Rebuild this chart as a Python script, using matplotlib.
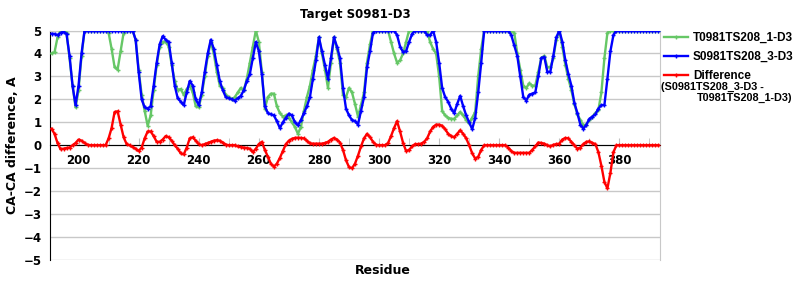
import numpy as np
import matplotlib
matplotlib.use('Agg')
import matplotlib.pyplot as plt
from matplotlib.ticker import MultipleLocator

# residues 191..393
residues = np.arange(191, 394)

model_t = [
    4.0, 4.05, 4.7, 5.0, 5.0, 4.9, 3.8, 2.6, 1.65,            # 191-199
    2.4, 3.9, 5.0, 5.0, 5.0, 5.0, 5.0, 5.0, 5.0, 5.0,          # 200-209
    4.9, 4.2, 3.4, 3.3, 4.1, 4.9, 5.0, 5.0, 5.0, 4.6,          # 210-219
    3.3, 2.2, 1.5, 0.85, 1.3, 2.4, 3.5, 4.3, 4.5, 4.5,         # 220-229
    4.3, 3.5, 2.8, 2.4, 2.45, 2.2, 2.45, 2.6, 2.3, 1.7,        # 230-239
    1.65, 2.2, 3.0, 3.9, 4.5, 4.0, 3.2, 2.6, 2.5, 2.2,         # 240-249
    2.1, 2.0, 2.1, 2.3, 2.5, 2.4, 2.9, 3.6, 4.3, 5.0,          # 250-259
    4.5, 3.2, 1.6, 2.1, 2.25, 2.25, 1.7, 1.4, 1.25, 1.3,       # 260-269
    1.2, 1.0, 0.8, 0.5, 0.8, 1.5, 2.1, 2.6, 3.3, 3.9,          # 270-279
    4.7, 4.0, 3.3, 2.5, 3.6, 4.7, 4.2, 3.6, 2.2, 2.1,          # 280-289
    2.5, 2.3, 1.8, 1.25, 1.75, 2.3, 3.6, 4.4, 5.0, 5.0,        # 290-299
    5.0, 5.0, 5.0, 5.0, 4.5, 4.0, 3.6, 3.7, 4.0, 4.5,          # 300-309
    5.0, 5.0, 5.0, 5.0, 5.0, 5.0, 5.0, 4.5, 4.2, 4.0,          # 310-319
    3.0, 1.5, 1.3, 1.2, 1.15, 1.15, 1.3, 1.45, 1.3, 1.1,       # 320-329
    0.95, 1.2, 1.45, 3.0, 4.2, 5.0, 5.0, 5.0, 5.0, 5.0,        # 330-339
    5.0, 5.0, 5.0, 5.0, 5.0, 4.9, 4.0, 3.3, 2.6, 2.5,          # 340-349
    2.7, 2.6, 2.6, 3.2, 3.8, 3.9, 3.4, 3.4, 3.8, 4.6,          # 350-359
    5.0, 4.3, 3.5, 2.9, 2.4, 1.8, 1.35, 1.1, 0.87, 0.9,        # 360-369
    1.1, 1.25, 1.4, 1.55, 2.3, 3.8, 4.9, 5.0, 5.0, 5.0,        # 370-379
    5.0, 5.0, 5.0, 5.0, 5.0, 5.0, 5.0, 5.0, 5.0, 5.0,          # 380-389
    5.0, 5.0, 5.0, 5.0,                                        # 390-393
]

model_s = [
    4.86, 4.85, 4.8, 4.9, 4.95, 4.85, 3.9, 2.6, 1.75,          # 191-199
    2.6, 4.0, 5.0, 5.0, 5.0, 5.0, 5.0, 5.0, 5.0, 5.0,          # 200-209
    5.0, 5.0, 5.0, 5.0, 5.0, 5.0, 5.0, 5.0, 5.0, 4.6,          # 210-219
    3.2, 2.0, 1.65, 1.6, 1.7, 2.6, 3.6, 4.4, 4.75, 4.6,        # 220-229
    4.5, 3.6, 2.6, 2.05, 1.9, 1.75, 2.3, 2.8, 2.6, 2.0,        # 230-239
    1.75, 2.3, 3.2, 4.0, 4.6, 4.2, 3.5, 2.8, 2.4, 2.1,         # 240-249
    2.05, 2.0, 1.95, 2.05, 2.15, 2.4, 2.8, 3.1, 3.8, 4.5,      # 250-259
    4.1, 3.1, 1.7, 1.4, 1.35, 1.3, 1.05, 0.75, 1.0, 1.2,       # 260-269
    1.38, 1.3, 1.0, 0.87, 1.1, 1.4, 1.7, 2.1, 2.9, 3.7,        # 270-279
    4.7, 4.1, 3.5, 2.9, 3.8, 4.7, 4.3, 3.8, 2.5, 1.6,          # 280-289
    1.3, 1.1, 1.05, 0.9, 1.5, 2.1, 3.4, 4.1, 4.9, 5.0,         # 290-299
    5.0, 5.0, 5.0, 5.0, 5.0, 5.0, 4.8, 4.3, 4.06, 4.1,         # 300-309
    4.5, 4.85, 5.0, 5.0, 5.0, 5.0, 4.8, 4.8, 5.0, 4.5,         # 310-319
    3.6, 2.5, 2.1, 1.9, 1.6, 1.4, 1.8, 2.15, 1.7, 1.3,         # 320-329
    1.0, 0.7, 1.2, 2.3, 3.6, 5.0, 5.0, 5.0, 5.0, 5.0,          # 330-339
    5.0, 5.0, 5.0, 5.0, 4.8, 4.35, 3.9, 3.0, 2.1, 1.95,        # 340-349
    2.2, 2.25, 2.3, 3.0, 3.8, 3.85, 3.2, 3.2, 3.9, 4.7,        # 350-359
    5.0, 4.5, 3.7, 3.1, 2.6, 1.85, 1.4, 0.9, 0.72, 0.9,        # 360-369
    1.15, 1.25, 1.35, 1.6, 1.75, 1.75, 2.9, 4.1, 4.8, 5.0,     # 370-379
    5.0, 5.0, 5.0, 5.0, 5.0, 5.0, 5.0, 5.0, 5.0, 5.0,          # 380-389
    5.0, 5.0, 5.0, 5.0,                                        # 390-393
]

difference = [
    0.72, 0.5, 0.1, -0.17, -0.15, -0.12, -0.1, 0.0, 0.1,       # 191-199
    0.25, 0.2, 0.1, 0.02, 0.0, 0.0, 0.0, 0.0, 0.0, 0.0,        # 200-209
    0.3, 0.75, 1.45, 1.48, 0.9, 0.35, 0.05, 0.0, -0.08, -0.15, # 210-219
    -0.25, -0.1, 0.3, 0.6, 0.6, 0.4, 0.15, 0.15, 0.25, 0.4,    # 220-229
    0.35, 0.2, 0.0, -0.15, -0.35, -0.4, -0.1, 0.3, 0.35, 0.2,  # 230-239
    0.05, 0.0, 0.05, 0.1, 0.15, 0.2, 0.22, 0.2, 0.12, 0.03,    # 240-249
    0.0, 0.0, 0.0, -0.05, -0.08, -0.1, -0.12, -0.15, -0.3, -0.15,  # 250-259
    0.05, 0.15, -0.2, -0.5, -0.8, -0.93, -0.8, -0.55, -0.25, 0.05,  # 260-269
    0.2, 0.28, 0.32, 0.33, 0.32, 0.3, 0.2, 0.08, 0.07, 0.07,   # 270-279
    0.07, 0.07, 0.1, 0.15, 0.25, 0.32, 0.25, 0.12, -0.2, -0.65,  # 280-289
    -0.95, -1.0, -0.8, -0.45, -0.05, 0.3, 0.5, 0.35, 0.15, 0.02,  # 290-299
    0.0, 0.0, 0.0, 0.1, 0.4, 0.75, 1.05, 0.6, 0.1, -0.25,      # 300-309
    -0.2, -0.05, 0.05, 0.05, 0.07, 0.15, 0.3, 0.6, 0.8, 0.9,   # 310-319
    0.9, 0.85, 0.7, 0.5, 0.4, 0.35, 0.5, 0.65, 0.5, 0.3,       # 320-329
    0.0, -0.35, -0.58, -0.5, -0.2, 0.0, 0.0, 0.0, 0.0, 0.0,    # 330-339
    0.0, 0.0, 0.0, -0.1, -0.25, -0.33, -0.33, -0.33, -0.33, -0.33,  # 340-349
    -0.33, -0.2, -0.05, 0.12, 0.1, 0.07, 0.0, -0.05, 0.02, 0.05,  # 350-359
    0.07, 0.25, 0.32, 0.3, 0.15, 0.0, -0.15, -0.1, 0.05, 0.15,  # 360-369
    0.17, 0.1, 0.05, -0.3, -0.9, -1.6, -1.88, -1.2, -0.3, 0.0,  # 370-379
    0.0, 0.0, 0.0, 0.0, 0.0, 0.0, 0.0, 0.0, 0.0, 0.0,          # 380-389
    0.0, 0.0, 0.0, 0.0,                                        # 390-393
]

plt.rcParams['font.family'] = ['DejaVu Sans']
plt.rcParams['font.weight'] = 'bold'

fig = plt.figure(figsize=(8, 3), dpi=100)
ax = fig.add_axes([0.0625, 0.1333, 0.7625, 0.765])

ax.plot(residues, model_t, color='#66c766', lw=1.7, marker='+', ms=2.5, mew=1,
        label='T0981TS208_1-D3', zorder=3)
ax.plot(residues, model_s, color='#0000ff', lw=1.7, marker='+', ms=2.5, mew=1,
        label='S0981TS208_3-D3', zorder=4)
ax.plot(residues, difference, color='#ff0000', lw=1.7, marker='+', ms=2.5, mew=1,
        label='Difference', zorder=5)

ax.set_xlim(190.5, 393.5)
ax.set_ylim(-5, 5)
ax.yaxis.set_major_locator(MultipleLocator(1))
ax.xaxis.set_major_locator(MultipleLocator(20))
ax.xaxis.set_minor_locator(MultipleLocator(10))
ax.grid(axis='y', color='#c8c8c8', lw=1, zorder=0)

ax.spines['bottom'].set_position(('data', 0))
ax.spines['bottom'].set_color('black')
ax.spines['left'].set_color('black')
ax.spines['right'].set_color('#c8c8c8')
ax.spines['top'].set_color('#c8c8c8')
ax.tick_params(axis='x', which='both', direction='in', length=5, color='#c0c0c0',
               labelsize=8.5, pad=6)
ax.tick_params(axis='y', length=0, labelsize=8.5, pad=6)
for lab in ax.get_xticklabels() + ax.get_yticklabels():
    lab.set_fontweight('bold')

ax.set_title('Target S0981-D3', fontsize=8.5, fontweight='bold', pad=9)
ax.set_ylabel('CA-CA difference, A', fontsize=9, fontweight='bold', labelpad=3)
fig.text(383 / 800, 1 - 270 / 300, 'Residue', ha='center', va='center',
         fontsize=9, fontweight='bold')

leg = ax.legend(loc='upper left', bbox_to_anchor=(664 / 800, 1 - 32 / 300),
                bbox_transform=fig.transFigure, frameon=False,
                prop={'family': 'Liberation Sans', 'weight': 'bold', 'size': 8.5},
                handlelength=2.0, handletextpad=0.45, labelspacing=0.6,
                borderaxespad=0, borderpad=0)
fig.text(661 / 800, 1 - 87 / 300, '(S0981TS208_3-D3 -', ha='left', va='center',
         fontsize=7.8, fontweight='bold', family='Liberation Sans')
fig.text(697 / 800, 1 - 97.5 / 300, 'T0981TS208_1-D3)', ha='left', va='center',
         fontsize=7.8, fontweight='bold', family='Liberation Sans')

fig.savefig('out.png', dpi=100)
